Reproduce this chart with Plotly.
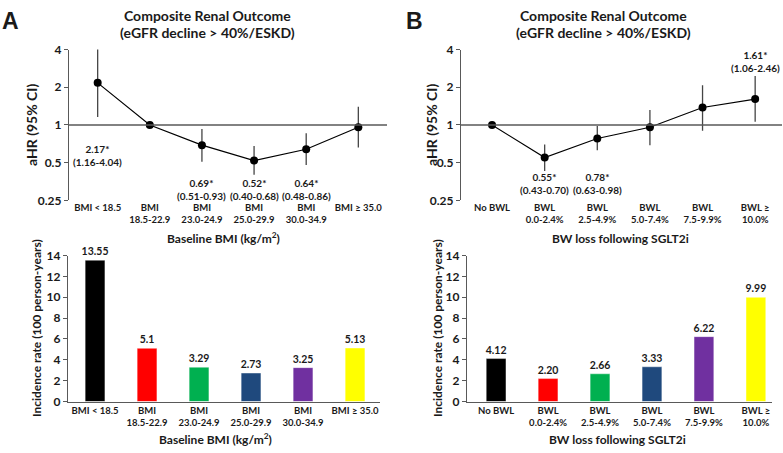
import plotly.graph_objects as go

# ---------------- data ----------------
bmi_cats = ["BMI < 18.5", "BMI<br>18.5-22.9", "BMI<br>23.0-24.9", "BMI<br>25.0-29.9",
            "BMI<br>30.0-34.9", "BMI ≥ 35.0"]
bmi_hr = [2.17, 1.00, 0.69, 0.52, 0.64, 0.96]
bmi_lo = [1.16, 1.00, 0.51, 0.40, 0.48, 0.66]
bmi_hi = [4.04, 1.00, 0.93, 0.68, 0.86, 1.40]
bmi_sig = [0, 2, 3, 4]
bmi_ir = [13.55, 5.1, 3.29, 2.73, 3.25, 5.13]
bmi_ir_text = ["13.55", "5.1", "3.29", "2.73", "3.25", "5.13"]

bwl_cats = ["No BWL", "BWL<br>0.0-2.4%", "BWL<br>2.5-4.9%", "BWL<br>5.0-7.4%",
            "BWL<br>7.5-9.9%", "BWL ≥<br>10.0%"]
bwl_hr = [1.00, 0.55, 0.78, 0.96, 1.38, 1.61]
bwl_lo = [1.00, 0.43, 0.63, 0.69, 0.90, 1.06]
bwl_hi = [1.00, 0.70, 0.98, 1.32, 2.08, 2.46]
bwl_sig = [1, 2, 5]
bwl_ir = [4.12, 2.20, 2.66, 3.33, 6.22, 9.99]
bwl_ir_text = ["4.12", "2.20", "2.66", "3.33", "6.22", "9.99"]

hr_ticks = [0.25, 0.5, 1, 2, 4]
ir_ticks = [0, 2, 4, 6, 8, 10, 12, 14]
bar_colors = ["#000000", "#FF0000", "#00B050", "#1F497D", "#7030A0", "#FFFF00"]

# ---------------- layout helpers ----------------
W, H = 783, 453
def px(x):
    return x / W
def py(y):
    return 1 - y / H

FONT = "Lato"
AX = "#595959"
TXT = "#1a1a1a"

fig = go.Figure()

def add_forest(cats, hr, lo, hi, xa, ya):
    fig.add_trace(go.Scatter(
        x=cats, y=hr, mode="lines+markers",
        line=dict(color="black", width=1.2),
        marker=dict(color="black", size=8),
        error_y=dict(type="data", symmetric=False,
                     array=[h - m for h, m in zip(hi, hr)],
                     arrayminus=[m - l for m, l in zip(hr, lo)],
                     color="#454545", thickness=1.3, width=0),
        xaxis=xa, yaxis=ya, showlegend=False, cliponaxis=False))

def add_bars(cats, vals, texts, xa, ya):
    fig.add_trace(go.Bar(
        x=cats, y=vals, text=texts, textposition="outside", constraintext="none",
        textfont=dict(family=FONT, size=10.5, color=TXT, weight="bold"),
        marker=dict(color=bar_colors, line=dict(color="rgba(255,255,255,0.4)", width=1)),
        width=0.38, xaxis=xa, yaxis=ya, showlegend=False, cliponaxis=False))

add_forest(bmi_cats, bmi_hr, bmi_lo, bmi_hi, "x", "y")
add_forest(bwl_cats, bwl_hr, bwl_lo, bwl_hi, "x2", "y2")
add_bars(bmi_cats, bmi_ir, bmi_ir_text, "x3", "y3")
add_bars(bwl_cats, bwl_ir, bwl_ir_text, "x4", "y4")

tickfont_x = dict(family=FONT, size=9.5, color=TXT, weight="bold")
tickfont_y = dict(family=FONT, size=12, color=TXT, weight="bold")

def xaxis_cfg(dom, cats, rng, line):
    return dict(domain=dom, type="category", categoryorder="array", categoryarray=cats,
                range=rng, showgrid=False, zeroline=False, showline=line,
                linecolor=AX, linewidth=1.3, ticks="", tickfont=tickfont_x, fixedrange=True)

def yaxis_hr(dom, anchor):
    return dict(domain=dom, anchor=anchor, type="log",
                range=[-0.60206, 0.60206], tickvals=hr_ticks,
                ticktext=[str(t) for t in hr_ticks], showgrid=False, zeroline=False,
                showline=True, linecolor=AX, linewidth=1.3, ticks="outside", ticklen=4,
                tickcolor=AX, tickfont=tickfont_y)

def yaxis_ir(dom, anchor):
    return dict(domain=dom, anchor=anchor, range=[0, 14], tickvals=ir_ticks,
                showgrid=False, zeroline=False, showline=True, linecolor=AX,
                linewidth=1.3, ticks="outside", ticklen=4, tickcolor=AX,
                tickfont=tickfont_y)

top_dom = [py(199), py(43)]
bot_dom = [py(407), py(256)]

fig.update_layout(
    width=W, height=H, margin=dict(l=0, r=0, t=0, b=0),
    paper_bgcolor="white", plot_bgcolor="white",
    font=dict(family=FONT, color=TXT),
    xaxis=dict(xaxis_cfg([px(69), px(387)], bmi_cats, [-0.55, 5.55], False), anchor="y"),
    yaxis=yaxis_hr(top_dom, "x"),
    xaxis2=dict(xaxis_cfg([px(461), px(782)], bwl_cats, [-0.59, 5.51], False), anchor="y2"),
    yaxis2=yaxis_hr(top_dom, "x2"),
    xaxis3=dict(xaxis_cfg([px(68), px(380)], bmi_cats, [-0.52, 5.48], True), anchor="y3"),
    yaxis3=yaxis_ir(bot_dom, "x3"),
    xaxis4=dict(xaxis_cfg([px(467), px(772)], bwl_cats, [-0.56, 5.31], True), anchor="y4"),
    yaxis4=yaxis_ir(bot_dom, "x4"),
)

# reference line at HR = 1
for xr, yr in (("x domain", "y"), ("x2 domain", "y2")):
    fig.add_shape(type="line", xref=xr, yref=yr, x0=0, x1=1, y0=1, y1=1,
                  line=dict(color=AX, width=1.3))

ann = []
def text(x, y, s, size, xref="paper", yref="paper", angle=0, family=FONT):
    ann.append(dict(x=x, y=y, xref=xref, yref=yref, text=s, showarrow=False,
                    textangle=angle, xanchor="center", yanchor="middle",
                    font=dict(family=family, size=size, color=TXT, weight="bold")))

# panel letters
text(px(10), py(13), "A", 23, family="Liberation Sans")
text(px(415), py(13), "B", 23, family="Liberation Sans")
# titles
for cx in (207, 603):
    text(px(cx), py(8), "Composite Renal Outcome", 14)
    text(px(cx), py(25), "(eGFR decline > 40%/ESKD)", 14)
# y titles
text(px(32), py(121), "aHR (95% CI)", 14, angle=-90)
text(px(432), py(121), "aHR (95% CI)", 14, angle=-90)
text(px(36), py(331), "Incidence rate (100 person-years)", 12, angle=-90)
text(px(437), py(331), "Incidence rate (100 person-years)", 12, angle=-90)
# x titles
text(px(223), py(238), "Baseline BMI (kg/m<sup>2</sup>)", 12)
text(px(620), py(238), "BW loss following SGLT2i", 12)
text(px(215), py(446), "Baseline BMI (kg/m<sup>2</sup>)", 12)
text(px(617), py(446), "BW loss following SGLT2i", 12)

# HR annotations for significant groups (positions in y-domain fraction)
bmi_ann_pos = {0: 0.295, 2: 0.075, 3: 0.075, 4: 0.075}
bwl_ann_pos = {1: 0.115, 2: 0.115, 5: 0.92}
for cats, hr, lo, hi, sig, pos, xr, yr in (
        (bmi_cats, bmi_hr, bmi_lo, bmi_hi, bmi_sig, bmi_ann_pos, "x", "y domain"),
        (bwl_cats, bwl_hr, bwl_lo, bwl_hi, bwl_sig, bwl_ann_pos, "x2", "y2 domain")):
    for i in sig:
        text(cats[i], pos[i], f"{hr[i]:.2f}*<br>({lo[i]:.2f}-{hi[i]:.2f})", 10,
             xref=xr, yref=yr)

fig.update_layout(annotations=ann)
fig.write_html("out.html", post_script="document.body.style.margin='0';",
               config={"displayModeBar": False})
